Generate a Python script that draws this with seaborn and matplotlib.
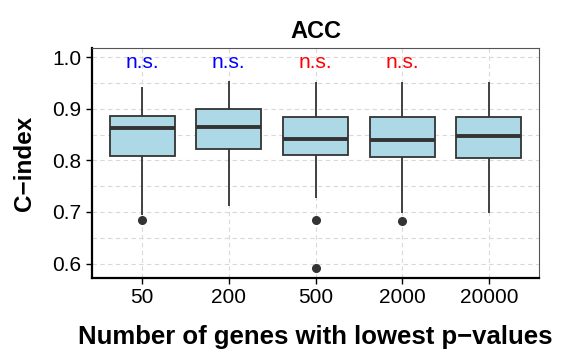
import pandas as pd
import matplotlib
matplotlib.use("Agg")
import matplotlib.pyplot as plt
from matplotlib.ticker import MultipleLocator
import seaborn as sns

gene_counts = ["50", "200", "500", "2000", "20000"]
cidx_50 = [0.684, 0.695, 0.760, 0.809, 0.830, 0.850, 0.863, 0.870, 0.880, 0.886, 0.900, 0.920, 0.943]
cidx_200 = [0.711, 0.770, 0.800, 0.823, 0.840, 0.855, 0.864, 0.875, 0.890, 0.899, 0.915, 0.935, 0.954]
cidx_500 = [0.591, 0.684, 0.728, 0.811, 0.820, 0.830, 0.841, 0.855, 0.870, 0.885, 0.905, 0.930, 0.952]
cidx_2000 = [0.682, 0.698, 0.760, 0.807, 0.820, 0.830, 0.839, 0.855, 0.870, 0.885, 0.905, 0.930, 0.952]
cidx_20000 = [0.698, 0.740, 0.780, 0.804, 0.820, 0.835, 0.847, 0.860, 0.875, 0.885, 0.905, 0.930, 0.952]

# significance labels above each box
sig_labels = ["n.s.", "n.s.", "n.s.", "n.s.", ""]
sig_colors = ["#0000FF", "#0000FF", "#FF0000", "#FF0000", "#FF0000"]
sig_y = 0.99

all_vals = [cidx_50, cidx_200, cidx_500, cidx_2000, cidx_20000]
df = pd.DataFrame({
    "genes": [g for g, vals in zip(gene_counts, all_vals) for _ in vals],
    "cindex": [v for vals in all_vals for v in vals],
})

sns.set_style("white")
plt.rcParams["font.family"] = ["Liberation Sans", "DejaVu Sans"]
plt.rcParams["text.color"] = "black"
plt.rcParams["axes.labelcolor"] = "black"

fig, ax = plt.subplots(figsize=(5.63, 3.54), dpi=100)
fig.subplots_adjust(left=92 / 563, right=539 / 563, top=1 - 48 / 354, bottom=1 - 278 / 354)

ax.set_axisbelow(True)
sns.boxplot(data=df, x="genes", y="cindex", order=gene_counts, ax=ax,
            color="#ADD8E6", width=0.75, saturation=1,
            linecolor="#333333", linewidth=1.3, showcaps=False,
            medianprops={"linewidth": 2.8, "color": "#333333"},
            flierprops={"marker": "o", "markersize": 5.5, "markerfacecolor": "#333333",
                        "markeredgecolor": "#333333"})

for i, (lab, col) in enumerate(zip(sig_labels, sig_colors)):
    if lab:
        ax.text(i, sig_y, lab, color=col, ha="center", va="center", fontsize=15)

ax.set_xlim(-0.58, 4.58)
ax.set_ylim(0.572, 1.018)
ax.yaxis.set_minor_locator(MultipleLocator(0.05))
ax.set_yticks([0.6, 0.7, 0.8, 0.9, 1.0])
ax.set_yticklabels(["0.6", "0.7", "0.8", "0.9", "1.0"])

ax.grid(True, which="both", axis="y", color="#D9D9D9", linestyle=(0, (4, 3)), linewidth=0.8)
ax.grid(True, which="major", axis="x", color="#D9D9D9", linestyle=(0, (4, 3)), linewidth=0.8)

for side in ["left", "bottom"]:
    ax.spines[side].set_color("black")
    ax.spines[side].set_linewidth(1.6)
for side in ["top", "right"]:
    ax.spines[side].set_color("#555555")
    ax.spines[side].set_linewidth(0.8)

ax.tick_params(axis="both", which="major", length=4, width=1, color="black",
               labelsize=15, labelcolor="black", left=True, bottom=True)
ax.tick_params(axis="y", which="minor", length=0)

ax.set_xlabel("Number of genes with lowest p\u2212values", fontsize=18.5, fontweight="bold",
              labelpad=13, color="black")
ax.set_ylabel("C\u2212index", fontsize=17.5, fontweight="bold", labelpad=12, color="black")
ax.set_title("ACC", fontsize=17, fontweight="bold", pad=7, color="black")

plt.savefig("out.png", dpi=100)
plt.close()
